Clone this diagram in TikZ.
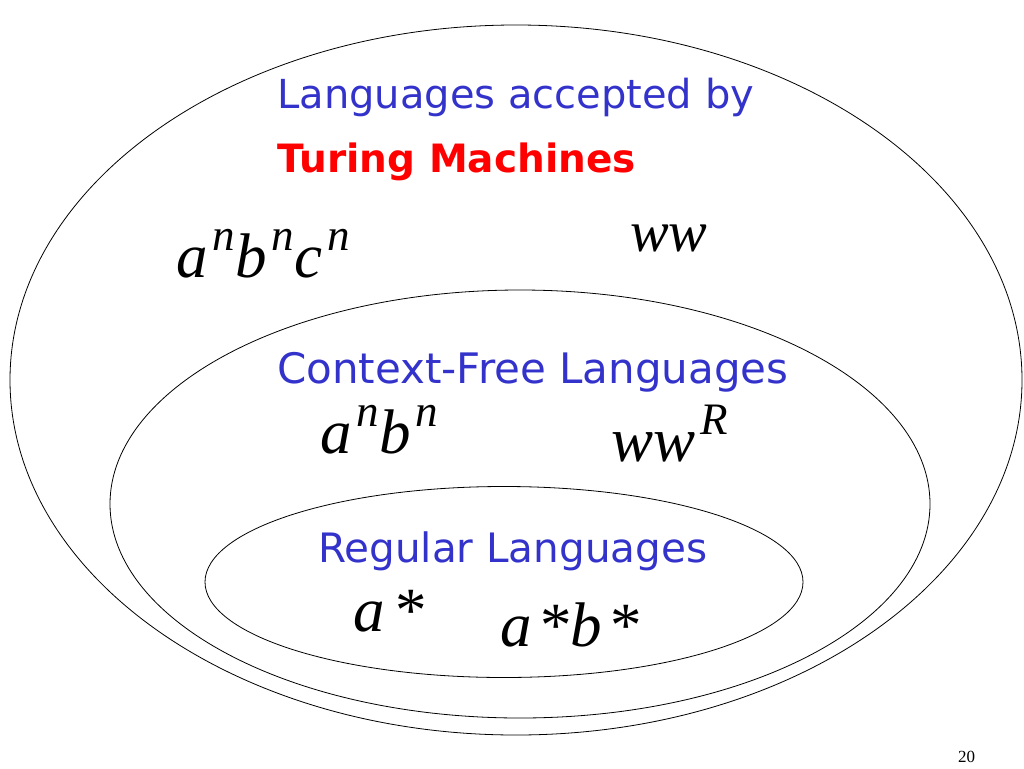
\documentclass[tikz,border=0pt]{standalone}
\usepackage{fontspec}
\usepackage{tikz}
\usetikzlibrary{shapes.geometric}

\newfontfamily\comic{DejaVu Sans}
\newfontfamily\tms{Liberation Serif}
\definecolor{langblue}{RGB}{51,51,204}
\newcommand{\up}[1]{\hspace{5pt}\raisebox{0.42em}{\fontsize{45}{45}\selectfont #1}}

\begin{document}
\begin{tikzpicture}[x=1pt, y=-1pt,
    set/.style = {draw, ellipse, line width=0.8pt, inner sep=0},
    lang/.style = {text=langblue, font=\comic\fontsize{40}{40}\selectfont, anchor=base west, inner sep=0},
    tmname/.style = {text=red, font=\comic\bfseries\fontsize{39}{39}\selectfont, anchor=base west, inner sep=0},
    expr/.style = {font=\tms\itshape\fontsize{63}{63}\selectfont, anchor=base west, inner sep=0}]
    \useasboundingbox (0,0) rectangle (1024,768);
    % the three classes
    \node[set, minimum width=1012pt, minimum height=710pt] (tm) at (516,380) {};
    \node[set, minimum width=820pt, minimum height=428pt] (cf) at (520,504) {};
    \node[set, minimum width=598pt, minimum height=191pt] (reg) at (504,582) {};
    % Turing machines
    \node[lang] (t1) at (277,108) {Languages accepted by};
    \node[tmname] (t2) at (277,172) {Turing Machines};
    \node[expr] (anbncn) at (176,277) {a\up{n}b\up{n}c\up{n}};
    \node[expr, font=\tms\itshape\fontsize{58}{58}\selectfont] (ww) at (630,251) {ww};
    % context-free
    \node[lang, font=\comic\fontsize{42}{42}\selectfont] (c1) at (277,383) {Context-Free Languages};
    \node[expr] (anbn) at (320,453) {a\up{n}b\up{n}};
    \node[expr] (wwr) at (611,461) {ww\up{R}};
    % regular
    \node[lang, font=\comic\fontsize{40.5}{40.5}\selectfont] (r1) at (318,562) {Regular Languages};
    \node[expr] (astar) at (353,631) {a\hspace{8pt}*};
    \node[expr] (astarbstar) at (500,646) {a\hspace{6pt}*\hspace{1pt}b\hspace{6pt}*};
    \node[font=\tms\fontsize{17}{17}\selectfont, anchor=base west, inner sep=0] (page) at (958,762) {20};
\end{tikzpicture}
\end{document}
